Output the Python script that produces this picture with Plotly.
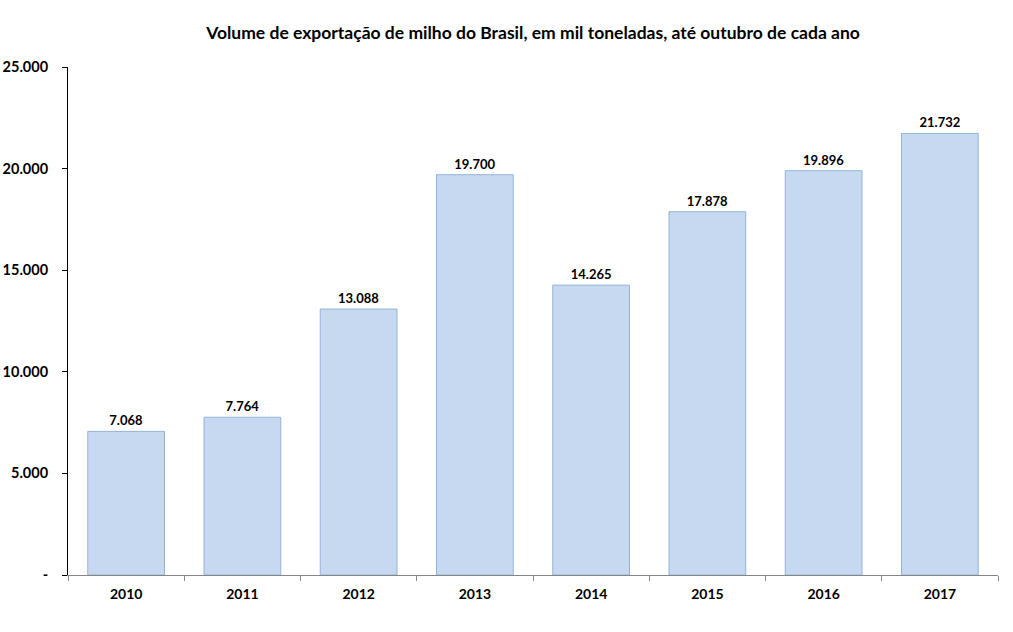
import plotly.graph_objects as go

years = ["2010", "2011", "2012", "2013", "2014", "2015", "2016", "2017"]
volumes = [7068, 7764, 13088, 19700, 14265, 17878, 19896, 21732]
y_tick_values = [0, 5000, 10000, 15000, 20000, 25000]
y_tick_labels = ["-", "5.000", "10.000", "15.000", "20.000", "25.000"]
title_text = "Volume de exportação de milho do Brasil, em mil toneladas, até outubro de cada ano"

font_family = "Lato, 'Open Sans', sans-serif"

fig = go.Figure(
    go.Bar(
        x=years,
        y=volumes,
        width=0.66,
        marker=dict(color="#C6D9F1", line=dict(color="#95B3D7", width=1)),
        texttemplate="<b>%{y:,}</b>",
        textposition="outside",
        textfont=dict(family=font_family, size=13, color="#000000"),
        cliponaxis=False,
    )
)

fig.update_layout(
    width=1013,
    height=632,
    margin=dict(l=68, r=15, t=67, b=57),
    paper_bgcolor="white",
    plot_bgcolor="white",
    separators=",.",
    showlegend=False,
    title=dict(
        text="<b>" + title_text + "</b>",
        x=0.5,
        xref="paper",
        xanchor="center",
        y=1 - 33 / 632,
        yanchor="middle",
        font=dict(family=font_family, size=17.5, color="#000000"),
    ),
    font=dict(family=font_family, color="#000000"),
)

fig.update_xaxes(
    showline=True,
    linecolor="#868686",
    linewidth=1,
    ticks="outside",
    tickson="boundaries",
    ticklen=5,
    tickcolor="#868686",
    showgrid=False,
    tickfont=dict(family=font_family, size=14, color="#000000"),
    ticklabelstandoff=6,
    type="category",
    tickvals=years,
    ticktext=["<b>" + y + "</b>" for y in years],
    automargin=False,
)

fig.update_yaxes(
    range=[0, 25000],
    tickvals=y_tick_values,
    ticktext=["<b>" + t + "</b>" for t in y_tick_labels],
    showline=True,
    linecolor="#000000",
    linewidth=1,
    ticks="outside",
    ticklen=5,
    tickcolor="#000000",
    showgrid=False,
    zeroline=False,
    ticklabelstandoff=11,
    automargin=False,
    tickfont=dict(family=font_family, size=14.5, color="#000000"),
)

fig.write_html("out.html")
